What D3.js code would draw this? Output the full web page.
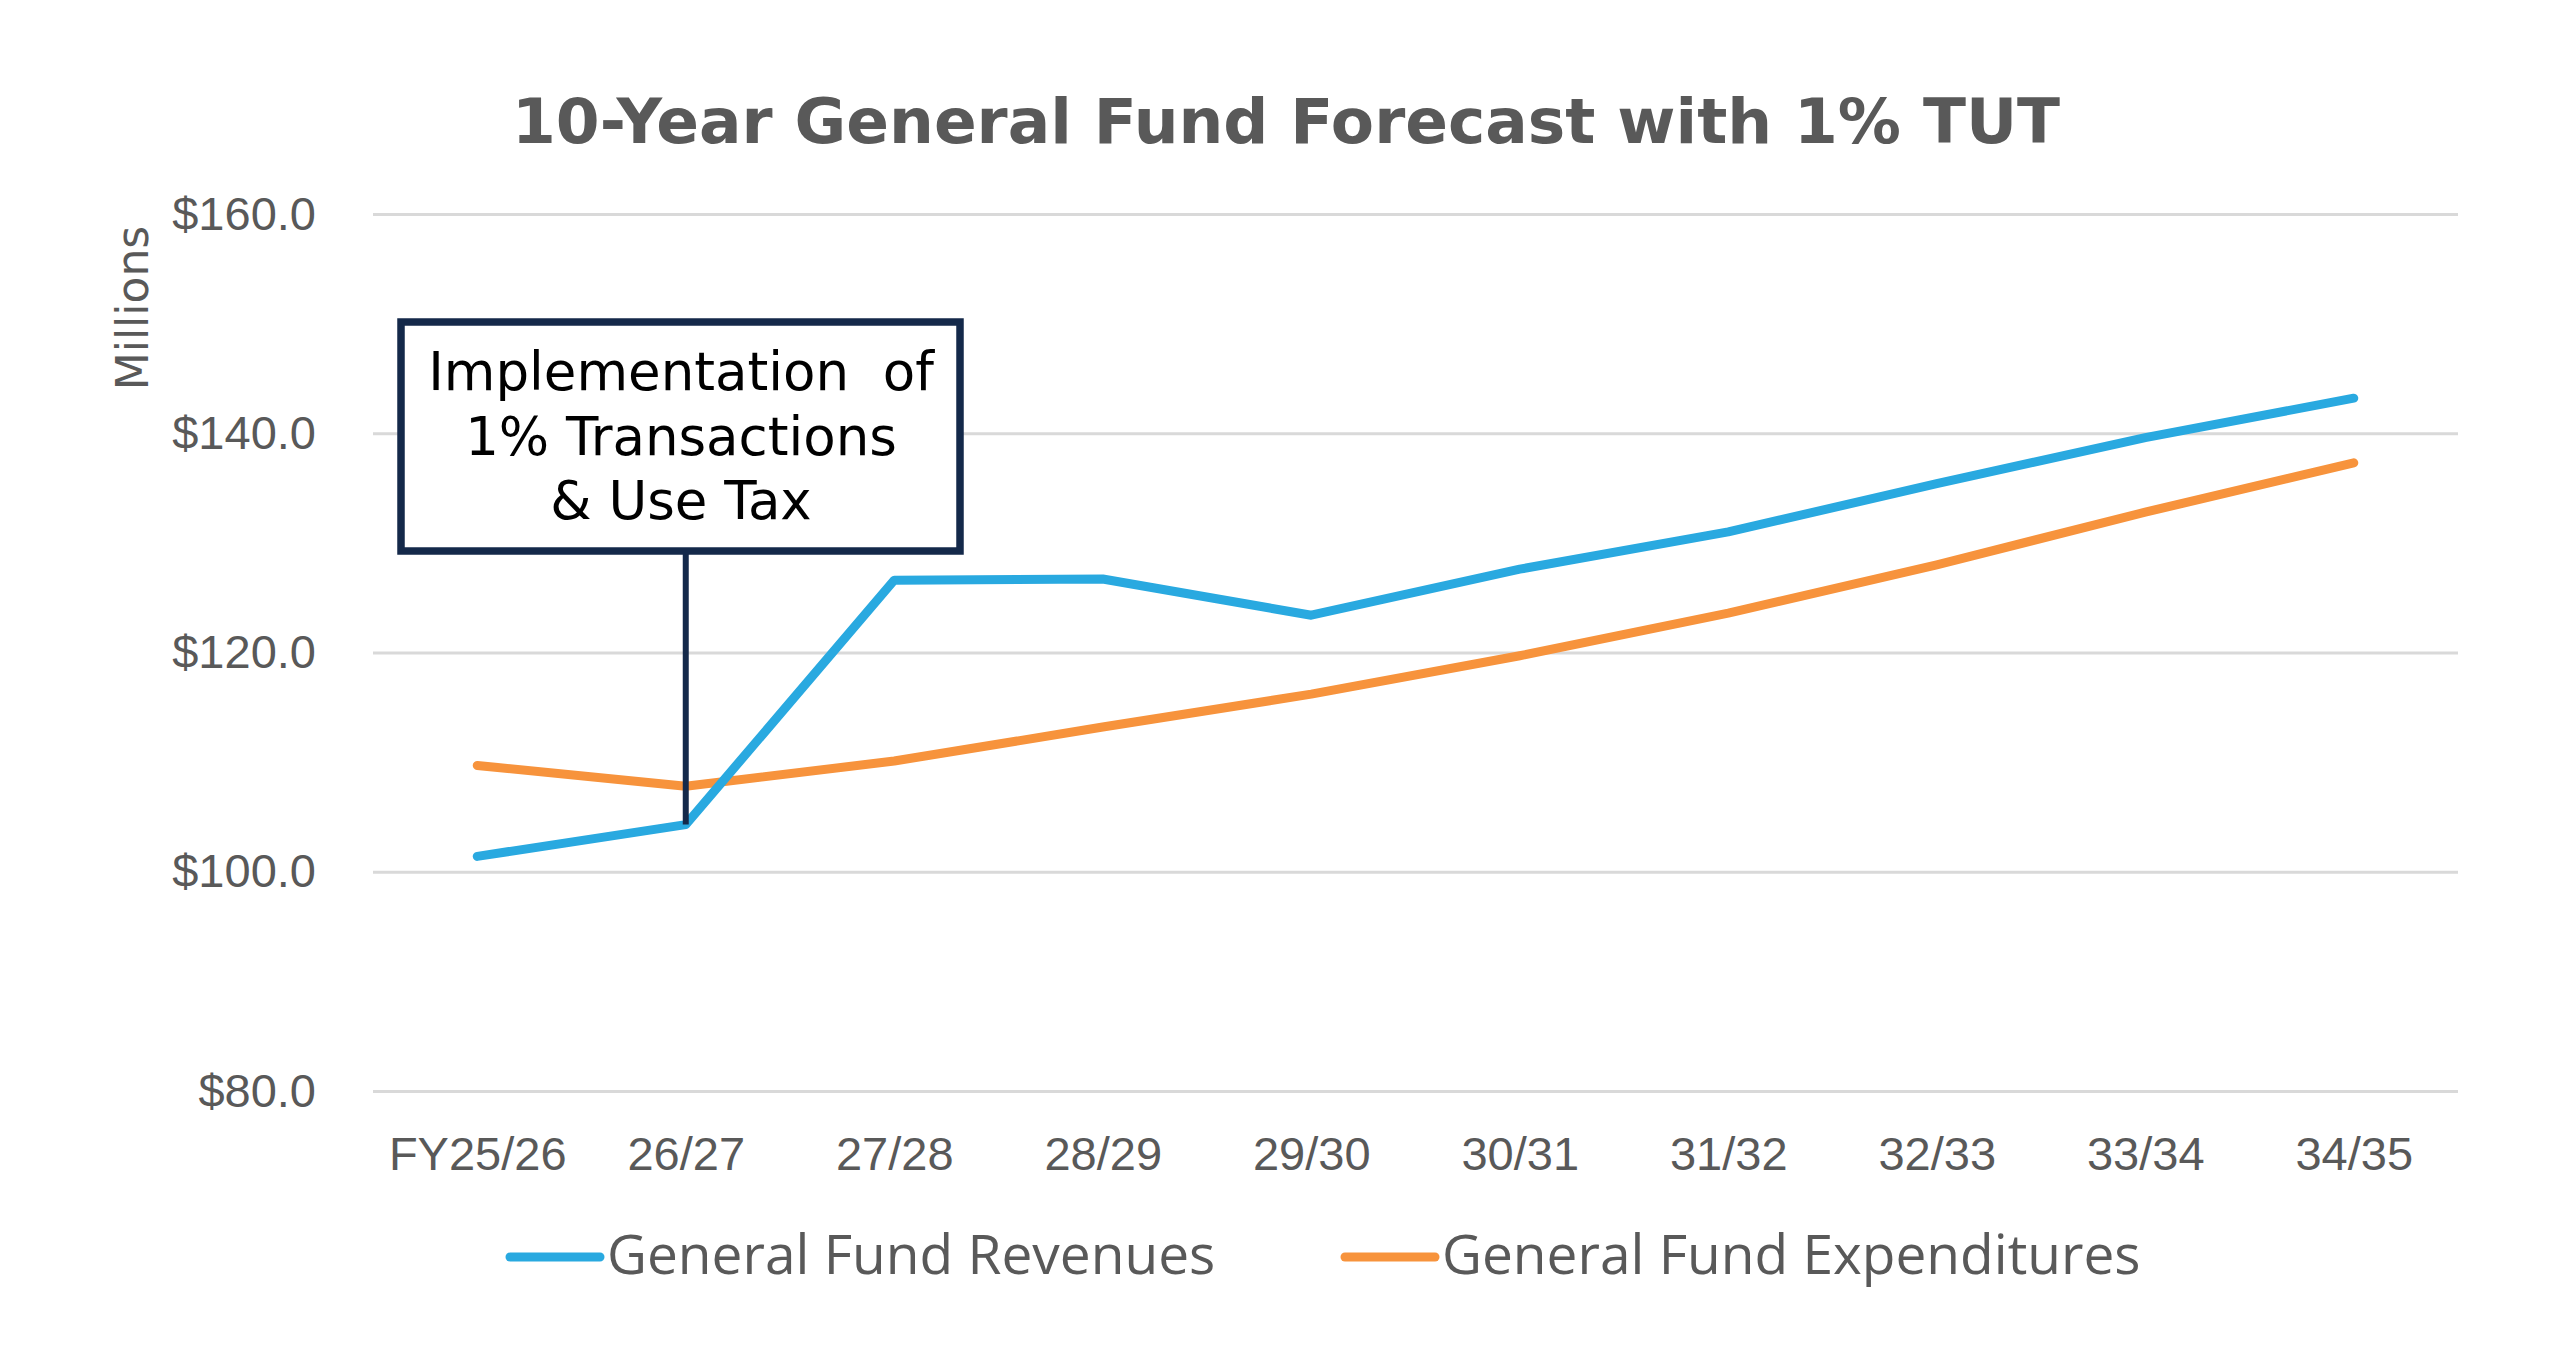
<!DOCTYPE html>
<html>
<head>
<meta charset="utf-8">
<script src="https://cdn.jsdelivr.net/npm/d3@7/dist/d3.min.js"></script>
<style>
  html, body { margin: 0; padding: 0; background: #fff; }
</style>
</head>
<body>
<script>
var years = ['FY25/26', '26/27', '27/28', '28/29', '29/30', '30/31', '31/32', '32/33', '33/34', '34/35'];
var revenues = [101.4, 104.3, 126.6, 126.7, 123.4, 127.6, 131.0, 135.4, 139.6, 143.2];
var expenditures = [109.7, 107.8, 110.1, 113.2, 116.2, 119.7, 123.6, 128.0, 132.8, 137.3];
var yTicks = [80, 100, 120, 140, 160];
var seriesNames = ['General Fund Revenues', 'General Fund Expenditures'];
var noteLines = ['Implementation  of', '1% Transactions', '& Use Tax'];
var noteYear = '26/27';

var W = 2550, H = 1371;
// plot edges (window.top is reserved, so no bare "top")
var plotL = 373, plotR = 2458, plotT = 214, plotB = 1091;
var grey = '#595959';
var blue = '#29a9e0', orange = '#f7933c', navy = '#14294a';

var svg = d3.select('body').append('svg')
  .attr('width', W)
  .attr('height', H)
  .style('display', 'block');

var x = d3.scalePoint().domain(years).range([plotL, plotR]).padding(0.5);
var y = d3.scaleLinear().domain([80, 160]).range([plotB, plotT]);

// title
svg.append('text')
  .attr('x', 1286)
  .attr('y', 143)
  .attr('text-anchor', 'middle')
  .style('font-family', 'DejaVu Sans, Verdana, sans-serif')
  .style('font-weight', 'bold')
  .style('font-size', '63px')
  .style('fill', grey)
  .text('10-Year General Fund Forecast with 1% TUT');

// y axis with gridlines
var yAxis = svg.append('g')
  .attr('transform', 'translate(' + plotL + ',0)')
  .call(d3.axisLeft(y).tickValues(yTicks).tickSize(-(plotR - plotL)).tickPadding(57)
    .tickFormat(function (d) { return '$' + d3.format('.1f')(d); }));
yAxis.select('.domain').remove();
yAxis.selectAll('line').attr('stroke', '#d9d9d9').attr('stroke-width', 3);
yAxis.selectAll('text')
  .style('font-family', 'Liberation Sans, Arial, sans-serif')
  .style('font-size', '47px')
  .style('fill', grey);

// x axis labels
var xAxis = svg.append('g')
  .attr('transform', 'translate(0,' + plotB + ')')
  .call(d3.axisBottom(x).tickSize(0).tickPadding(46));
xAxis.select('.domain').remove();
xAxis.selectAll('text')
  .style('font-family', 'Liberation Sans, Arial, sans-serif')
  .style('font-size', '47px')
  .style('fill', grey);

// y axis title
svg.append('text')
  .attr('transform', 'translate(148,308) rotate(-90)')
  .attr('text-anchor', 'middle')
  .style('font-family', 'DejaVu Sans, Verdana, sans-serif')
  .style('font-size', '44px')
  .style('fill', grey)
  .text('Millions');

// lines
var line = d3.line()
  .x(function (d, i) { return x(years[i]); })
  .y(function (d) { return y(d); });

svg.append('path')
  .datum(expenditures)
  .attr('d', line)
  .attr('fill', 'none')
  .attr('stroke', orange)
  .attr('stroke-width', 9)
  .attr('stroke-linejoin', 'round')
  .attr('stroke-linecap', 'round');

svg.append('path')
  .datum(revenues)
  .attr('d', line)
  .attr('fill', 'none')
  .attr('stroke', blue)
  .attr('stroke-width', 9)
  .attr('stroke-linejoin', 'round')
  .attr('stroke-linecap', 'round');

// annotation callout
var noteX = x(noteYear);
var boxTop = 322, boxBottom = 551;
svg.append('line')
  .attr('x1', noteX).attr('x2', noteX)
  .attr('y1', boxBottom)
  .attr('y2', y(revenues[years.indexOf(noteYear)]))
  .attr('stroke', navy)
  .attr('stroke-width', 6);

svg.append('rect')
  .attr('x', 401)
  .attr('y', boxTop)
  .attr('width', 559)
  .attr('height', boxBottom - boxTop)
  .attr('fill', '#fff')
  .attr('stroke', navy)
  .attr('stroke-width', 7.5);

svg.append('g').selectAll('text')
  .data(noteLines)
  .enter()
  .append('text')
  .attr('x', 681)
  .attr('y', function (d, i) { return 390 + i * 64.5; })
  .attr('text-anchor', 'middle')
  .style('font-family', 'DejaVu Sans, Verdana, sans-serif')
  .style('font-size', '53px')
  .style('white-space', 'pre')
  .style('fill', '#000')
  .text(function (d) { return d; });

// legend
var legendX = [510, 1345];
var legend = svg.selectAll('.legend')
  .data(seriesNames)
  .enter()
  .append('g')
  .attr('class', 'legend')
  .attr('transform', function (d, i) { return 'translate(' + legendX[i] + ',1257)'; });

legend.append('line')
  .attr('x1', 0).attr('x2', 90)
  .attr('y1', 0).attr('y2', 0)
  .attr('stroke', function (d, i) { return i === 0 ? blue : orange; })
  .attr('stroke-width', 9)
  .attr('stroke-linecap', 'round');

legend.append('text')
  .attr('x', 97)
  .attr('y', 17)
  .style('font-family', 'Open Sans, sans-serif')
  .style('font-size', '55px')
  .style('fill', grey)
  .text(function (d) { return d; });
</script>
</body>
</html>
